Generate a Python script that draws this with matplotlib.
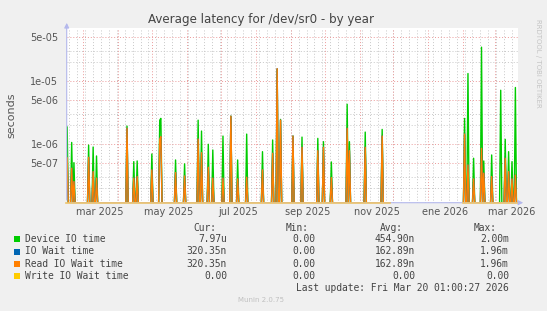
import matplotlib
matplotlib.use("Agg")
import matplotlib.pyplot as plt
import numpy as np
import pandas as pd
from matplotlib.patches import Rectangle

# ---- data ----
spike_dates = [
    "2025-02-15", "2025-02-19", "2025-02-21", "2025-03-06", "2025-03-10", "2025-03-13",
    "2025-04-09", "2025-04-15", "2025-04-18", "2025-05-01", "2025-05-08", "2025-05-09",
    "2025-05-22", "2025-05-30", "2025-06-11", "2025-06-14", "2025-06-20", "2025-06-24",
    "2025-07-03", "2025-07-10", "2025-07-16", "2025-07-24", "2025-08-07", "2025-08-16",
    "2025-08-20", "2025-08-23", "2025-09-03", "2025-09-11", "2025-09-25", "2025-09-30",
    "2025-10-07", "2025-10-21", "2025-10-23", "2025-11-06", "2025-11-21",
    "2026-02-02", "2026-02-05", "2026-02-10", "2026-02-17", "2026-02-19", "2026-02-26",
    "2026-03-06", "2026-03-10", "2026-03-13", "2026-03-16", "2026-03-19",
]
device_io = [
    1.88e-6, 1.06e-6, 5.05e-7, 9.6e-7, 8.96e-7, 6.45e-7,
    1.93e-6, 5.24e-7, 5.37e-7, 6.94e-7, 2.40e-6, 2.56e-6,
    5.57e-7, 4.82e-7, 2.40e-6, 1.61e-6, 9.9e-7, 8.03e-7,
    1.34e-6, 2.78e-6, 5.57e-7, 1.44e-6, 7.55e-7, 1.16e-6,
    1.55e-5, 2.47e-6, 1.34e-6, 1.29e-6, 1.23e-6, 1.09e-6,
    5.18e-7, 4.31e-6, 1.09e-6, 1.55e-6, 1.71e-6,
    2.56e-6, 1.33e-5, 5.93e-7, 3.50e-5, 5.37e-7, 6.69e-7,
    7.20e-6, 1.19e-6, 7.55e-7, 5.24e-7, 7.97e-6,
]
read_io_wait = [
    6.06e-7, 4.11e-7, 2.52e-7, 6.15e-7, 3.63e-7, 2.86e-7,
    1.78e-6, 2.86e-7, 3.03e-7, 3.87e-7, 1.20e-6, 1.31e-6,
    3.50e-7, 3.10e-7, 1.20e-6, 7.28e-7, 4.27e-7, 2.86e-7,
    2.86e-7, 2.78e-6, 2.78e-7, 2.96e-7, 3.87e-7, 7.12e-7,
    1.59e-5, 2.40e-6, 1.34e-6, 8.87e-7, 7.83e-7, 8.87e-7,
    2.92e-7, 1.78e-6, 7.83e-7, 8.87e-7, 1.34e-6,
    1.44e-6, 4.64e-7, 2.78e-7, 8.55e-7, 3.43e-7, 3.03e-7,
    0.0, 5.93e-7, 3.63e-7, 2.78e-7, 3.20e-7,
]
gap_start, gap_end = "2025-11-29", "2026-01-31"
x_start, x_end = "2025-02-14 14:00", "2026-03-21 14:00"
y_min, y_max = 1.16e-7, 7.08e-5

tick_dates = ["2025-03-16", "2025-05-16", "2025-07-16", "2025-09-16",
              "2025-11-16", "2026-01-16", "2026-03-16"]
tick_labels = ["mar 2025", "may 2025", "jul 2025", "sep 2025",
               "nov 2025", "ene 2026", "mar 2026"]
y_ticks = [5e-7, 1e-6, 5e-6, 1e-5, 5e-5]

legend_names = ["Device IO time", "IO Wait time", "Read IO Wait time", "Write IO Wait time"]
legend_colors = ["#00CC00", "#0066B3", "#FF8000", "#FFCC00"]
cur_vals = ["7.97u", "320.35n", "320.35n", "0.00"]
min_vals = ["0.00", "0.00", "0.00", "0.00"]
avg_vals = ["454.90n", "162.89n", "162.89n", "0.00"]
max_vals = ["2.00m", "1.96m", "1.96m", "0.00"]

# ---- daily series ----
days = pd.date_range("2025-02-14", "2026-03-20", freq="D")
base = pd.Series(0.0, index=days)
base[gap_start:gap_end] = np.nan
dev = base.copy()
rd = base.copy()
for d, a, b in zip(pd.to_datetime(spike_dates), device_io, read_io_wait):
    dev[d] = a
    rd[d] = b
wr = base.copy()


def on_log(s):
    # rrdtool draws zero at the bottom of a log axis
    return s.where(~(s <= y_min), y_min)


W, H = 547, 311
fig = plt.figure(figsize=(W / 100, H / 100), dpi=100, facecolor="#F0F0F0")
ax = fig.add_axes([66.7 / W, 1 - 202.7 / H, (518.3 - 66.7) / W, (202.7 - 28) / H])
ax.set_facecolor("white")
for sp in ax.spines.values():
    sp.set_visible(False)

ax.set_yscale("log")
ax.set_ylim(y_min, y_max)
ax.set_xlim(pd.Timestamp(x_start), pd.Timestamp(x_end))

# grid
dot = (0, (1, 2))
grey, pink = "#c8c8c8", "#eb9a9a"
for wk in pd.date_range("2025-02-01", "2026-04-01", freq="W-MON"):
    ax.axvline(wk, color=grey, lw=0.7, ls=dot, zorder=0)
for mo in pd.date_range("2025-02-01", "2026-04-01", freq="MS"):
    ax.axvline(mo, color=pink, lw=0.7, ls=dot, zorder=0.5)
for e in range(-7, -3):
    for m in (2, 3):
        ax.axhline(m * 10.0 ** e, color=grey, lw=0.7, ls=dot, zorder=0)
    for m in (1, 5):
        ax.axhline(m * 10.0 ** e, color=pink, lw=0.7, ls=dot, zorder=0.5)

# series
ax.plot(days, on_log(dev), color=legend_colors[0], lw=1.0, zorder=2)
ax.plot(days, on_log(rd), color=legend_colors[1], lw=1.0, zorder=3)
ax.plot(days, on_log(rd), color=legend_colors[2], lw=1.0, zorder=4)

# axes with arrows
ac = "#b4b8ec"
ax.annotate("", xy=(0, 1.045), xytext=(0, 0), xycoords="axes fraction",
            arrowprops=dict(arrowstyle="-|>", color=ac, lw=0.8, mutation_scale=7),
            annotation_clip=False, zorder=5)
ax.annotate("", xy=(1.017, 0), xytext=(0, 0), xycoords="axes fraction",
            arrowprops=dict(arrowstyle="-|>", color=ac, lw=0.8, mutation_scale=7),
            annotation_clip=False, zorder=5)
ax.plot(days, on_log(wr), color="#ecc46c", lw=1.2, zorder=6, clip_on=False)

# ticks
ax.set_yticks(y_ticks)
ax.set_yticklabels([f"{v:.0e}" for v in y_ticks])
ax.yaxis.set_minor_locator(matplotlib.ticker.NullLocator())
ax.set_xticks(pd.to_datetime(tick_dates))
ax.set_xticklabels(tick_labels)
ax.tick_params(axis="both", length=0, labelsize=7, labelcolor="#555555", pad=3)
ax.tick_params(axis="y", pad=6)

ax.set_ylabel("seconds", fontsize=8, color="#555555")
ax.yaxis.set_label_coords((16 - 66.7) / (518.3 - 66.7), 0.5)
fig.text(261 / W, 1 - 19 / H, "Average latency for /dev/sr0 - by year",
         ha="center", va="center", fontsize=8.6, color="#444444")
fig.text(538 / W, 1 - 63 / H, "RRDTOOL / TOBI OETIKER", rotation=270,
         ha="center", va="center", fontsize=5, color="#c4c4c4")

# legend block
mono = "DejaVu Sans Mono"
fs = 6.9
tc = "#444444"
cols = [(216, "Cur:", cur_vals, 227), (309, "Min:", min_vals, 315),
        (403, "Avg:", avg_vals, 415), (497, "Max:", max_vals, 509)]
for hx, head, vals, vx in cols:
    fig.text(hx / W, 1 - 228.3 / H, head, ha="right", va="center", family=mono, fontsize=fs, color=tc)
row_y = [239.3, 251.5, 263.6, 275.7]
for i, name in enumerate(legend_names):
    y = 1 - row_y[i] / H
    fig.add_artist(Rectangle((13.5 / W, y - 3 / H), 6 / W, 6 / H, transform=fig.transFigure,
                             facecolor=legend_colors[i], edgecolor="none"))
    fig.text(25 / W, y, name, ha="left", va="center", family=mono, fontsize=fs, color=tc)
    for hx, head, vals, vx in cols:
        fig.text(vx / W, y, vals[i], ha="right", va="center", family=mono, fontsize=fs, color=tc)
fig.text(509 / W, 1 - 287.7 / H, "Last update: Fri Mar 20 01:00:27 2026", ha="right",
         va="center", family=mono, fontsize=fs, color=tc)
fig.text(261 / W, 1 - 300.5 / H, "Munin 2.0.75", ha="center", va="center",
         fontsize=5, color="#c0c0c0")

fig.savefig("out.png", dpi=100, facecolor=fig.get_facecolor())
